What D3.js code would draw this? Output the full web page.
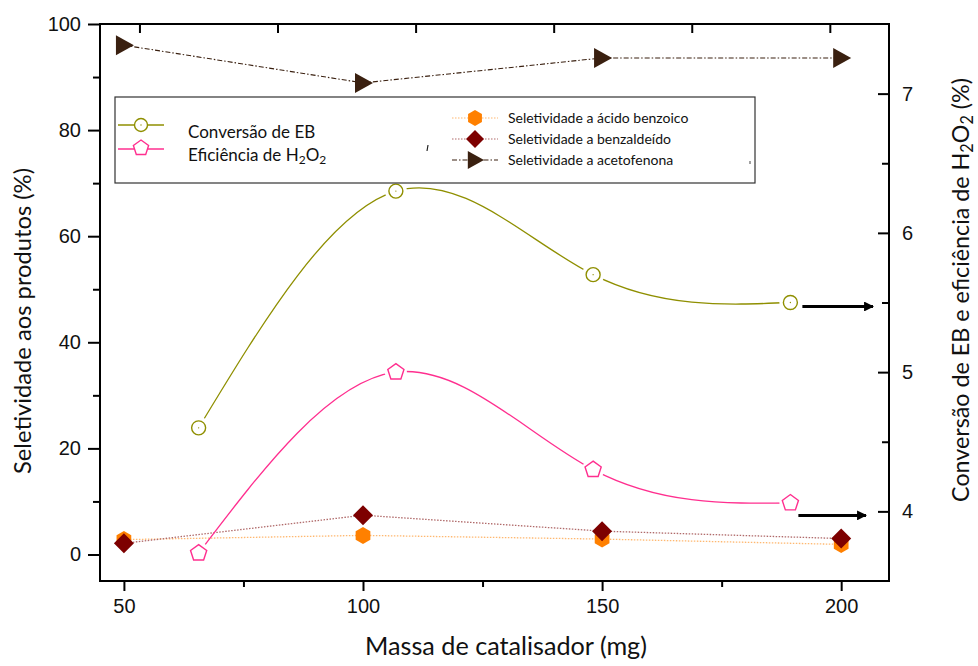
<!DOCTYPE html>
<html>
<head>
<meta charset="utf-8">
<script src="https://cdn.jsdelivr.net/npm/d3@7/dist/d3.min.js"></script>
<style>
  html, body { margin: 0; padding: 0; background: #fff; }
  svg { display: block; }
  .tick-label { font-family: "Liberation Sans", Arial, sans-serif; font-size: 20px; fill: #111; }
  .title { font-family: Lato, "Open Sans", sans-serif; font-size: 23px; fill: #111; }
  .leg-big { font-family: Lato, "Open Sans", sans-serif; font-size: 17px; fill: #111; }
  .leg-small { font-family: Lato, "Open Sans", sans-serif; font-size: 14px; fill: #111; }
</style>
</head>
<body>
<svg id="chart" width="978" height="666"></svg>
<script>
// Catalyst mass (mg)
const massas = [50, 100, 150, 200];

// Selectivity to products (%), left axis
const acidoBenzoico = [2.8, 3.6, 2.9, 1.9];
const benzaldeido   = [2.1, 7.4, 4.4, 3.0];
const acetofenona   = [96.0, 88.9, 93.6, 93.6];

// EB conversion and H2O2 efficiency (%), right axis
const conversaoEB    = [4.6, 6.3, 5.7, 5.5];
const eficienciaH2O2 = [3.7, 5.0, 4.3, 4.06];

// Right-axis values the two arrows point at
const arrowValues = [5.5, 4.0];

// Axis ticks
const xTicks = [50, 100, 150, 200];
const xMinor = [75, 125, 175];
const yLeftTicks = [0, 20, 40, 60, 80, 100];
const yLeftMinor = [10, 30, 50, 70, 90];
const yRightTicks = [4, 5, 6, 7];
const yRightMinor = [4.5, 5.5, 6.5];
const xTopTicks = [35, 70, 105, 140, 175, 210];

const svg = d3.select("#chart");
const plot = { left: 100, right: 889, top: 24, bottom: 581 };

// Layer 1 (selectivities) and layer 2 (conversion/efficiency) scales
const x  = d3.scaleLinear().domain([45, 210]).range([plot.left, plot.right]);
const x2 = d3.scaleLinear().domain([25, 225]).range([plot.left, plot.right]);
const yL = d3.scaleLinear().domain([-5, 100]).range([plot.bottom, plot.top]);
const yR = d3.scaleLinear().domain([3.5, 7.5]).range([plot.bottom, plot.top]);

const colors = {
  conv: "#8f8f00",
  efic: "#ff2f8f",
  acido: "#ff8000",
  acidoLine: "#ffb870",
  benz: "#7d0000",
  benzLine: "#b06a6a",
  aceto: "#3a2010"
};

// ---- Axes ----
function styleAxis(g) {
  g.selectAll(".domain").remove();
  g.selectAll(".tick line").attr("stroke", "#000").attr("stroke-width", 2);
}
function styleLabels(g) {
  g.selectAll("text").attr("class", "tick-label").attr("font-size", null).attr("font-family", null);
}

// bottom: outward ticks
svg.append("g").attr("transform", `translate(0,${plot.bottom})`)
  .call(d3.axisBottom(x).tickValues(xTicks).tickSize(10).tickPadding(8).tickFormat(d3.format("d")))
  .call(styleAxis).call(styleLabels);
svg.append("g").attr("transform", `translate(0,${plot.bottom})`)
  .call(d3.axisBottom(x).tickValues(xMinor).tickSize(6).tickFormat(""))
  .call(styleAxis);

// top: layer 2 x axis, inward ticks, no labels
svg.append("g").attr("transform", `translate(0,${plot.top})`)
  .call(d3.axisBottom(x2).tickValues(xTopTicks).tickSize(9).tickFormat(""))
  .call(styleAxis);

// left: outward ticks
svg.append("g").attr("transform", `translate(${plot.left},0)`)
  .call(d3.axisLeft(yL).tickValues(yLeftTicks).tickSize(12).tickPadding(7).tickFormat(d3.format("d")))
  .call(styleAxis).call(styleLabels);
svg.append("g").attr("transform", `translate(${plot.left},0)`)
  .call(d3.axisLeft(yL).tickValues(yLeftMinor).tickSize(7).tickFormat(""))
  .call(styleAxis);

// right: inward ticks, labels outside
svg.append("g").attr("transform", `translate(${plot.right},0)`)
  .call(d3.axisRight(yR).tickValues(yRightTicks).tickSizeInner(-11).tickSizeOuter(0).tickPadding(13).tickFormat(d3.format("d")))
  .call(styleAxis).call(styleLabels);
svg.append("g").attr("transform", `translate(${plot.right},0)`)
  .call(d3.axisRight(yR).tickValues(yRightMinor).tickSizeInner(-7).tickSizeOuter(0).tickFormat(""))
  .call(styleAxis);

// frame
svg.append("rect")
  .attr("x", plot.left).attr("y", plot.top)
  .attr("width", plot.right - plot.left).attr("height", plot.bottom - plot.top)
  .attr("fill", "none").attr("stroke", "#000").attr("stroke-width", 2);

// ---- Axis titles (font size adjusted so each title spans its intended length) ----
function fitText(sel, length) {
  const base = 23;
  const measured = sel.node().getComputedTextLength();
  if (measured > 0) sel.style("font-size", (base * length / measured).toFixed(2) + "px");
}

const bt = svg.append("text").attr("class", "title")
  .attr("x", 506).attr("y", 655)
  .attr("text-anchor", "middle").text("Massa de catalisador (mg)");
fitText(bt, 282);

const lt0 = svg.append("text").attr("class", "title")
  .attr("transform", `translate(31,321) rotate(-90)`)
  .attr("text-anchor", "middle").text("Seletividade aos produtos (%)");
fitText(lt0, 306);

const rt = svg.append("text").attr("class", "title")
  .attr("transform", `translate(969,290) rotate(-90)`)
  .attr("text-anchor", "middle");
rt.append("tspan").text("Conversão de EB e eficiência de H");
rt.append("tspan").attr("font-size", "0.7em").attr("dy", 4).text("2");
rt.append("tspan").attr("dy", -4).text("O");
rt.append("tspan").attr("font-size", "0.7em").attr("dy", 4).text("2");
rt.append("tspan").attr("dy", -4).text(" (%)");
fitText(rt, 424);

// ---- Marker shapes ----
function polygon(n, r, start) {
  const pts = d3.range(n).map(i => {
    const a = start + i * 2 * Math.PI / n;
    return [r * Math.cos(a), r * Math.sin(a)];
  });
  return "M" + pts.map(p => p.join(",")).join("L") + "Z";
}
const sym = {
  pentagon: r => polygon(5, r, -Math.PI / 2),
  hexagon: r => polygon(6, r, -Math.PI / 2),
  diamond: r => `M0,${-r}L${r},0L0,${r}L${-r},0Z`,
  triangleRight: r => `M${-r * 0.8},${-r}L${r},0L${-r * 0.8},${r}Z`
};

// ---- Layer 1: selectivities (left axis) ----
const line1 = d3.line().x((d, i) => x(massas[i])).y(d => yL(d));

svg.append("path").datum(acidoBenzoico).attr("d", line1)
  .attr("fill", "none").attr("stroke", colors.acidoLine).attr("stroke-width", 1.3)
  .attr("stroke-dasharray", "1.5,1.5");
svg.append("path").datum(benzaldeido).attr("d", line1)
  .attr("fill", "none").attr("stroke", colors.benzLine).attr("stroke-width", 1.3)
  .attr("stroke-dasharray", "1.5,1.5");
svg.append("path").datum(acetofenona).attr("d", line1)
  .attr("fill", "none").attr("stroke", colors.aceto).attr("stroke-width", 1.1)
  .attr("stroke-dasharray", "5,2,1.5,2");

svg.append("g").selectAll("path").data(acidoBenzoico).join("path")
  .attr("transform", (d, i) => `translate(${x(massas[i])},${yL(d)})`)
  .attr("d", sym.hexagon(8.5)).attr("fill", colors.acido);
svg.append("g").selectAll("path").data(benzaldeido).join("path")
  .attr("transform", (d, i) => `translate(${x(massas[i])},${yL(d)})`)
  .attr("d", sym.diamond(10)).attr("fill", colors.benz);
svg.append("g").selectAll("path").data(acetofenona).join("path")
  .attr("transform", (d, i) => `translate(${x(massas[i])},${yL(d)})`)
  .attr("d", sym.triangleRight(10)).attr("fill", colors.aceto);

// ---- Layer 2: conversion and efficiency (right axis), smooth curves ----
const defs = svg.append("defs");
const mask = defs.append("mask").attr("id", "gapMask");
mask.append("rect").attr("x", 0).attr("y", 0).attr("width", 978).attr("height", 666).attr("fill", "#fff");
[conversaoEB, eficienciaH2O2].forEach(series => {
  series.forEach((v, i) => {
    mask.append("circle").attr("cx", x2(massas[i])).attr("cy", yR(v)).attr("r", 11).attr("fill", "#000");
  });
});

const curve2 = d3.line().x((d, i) => x2(massas[i])).y(d => yR(d)).curve(d3.curveNatural);

svg.append("path").datum(conversaoEB).attr("d", curve2).attr("mask", "url(#gapMask)")
  .attr("fill", "none").attr("stroke", colors.conv).attr("stroke-width", 1.3);
svg.append("path").datum(eficienciaH2O2).attr("d", curve2).attr("mask", "url(#gapMask)")
  .attr("fill", "none").attr("stroke", colors.efic).attr("stroke-width", 1.3);

const convG = svg.append("g");
convG.selectAll("circle.m").data(conversaoEB).join("circle").attr("class", "m")
  .attr("cx", (d, i) => x2(massas[i])).attr("cy", d => yR(d)).attr("r", 7)
  .attr("fill", "#fff").attr("stroke", colors.conv).attr("stroke-width", 1.4);
convG.selectAll("circle.dot").data(conversaoEB).join("circle").attr("class", "dot")
  .attr("cx", (d, i) => x2(massas[i])).attr("cy", d => yR(d)).attr("r", 0.7)
  .attr("fill", colors.conv);
svg.append("g").selectAll("path").data(eficienciaH2O2).join("path")
  .attr("transform", (d, i) => `translate(${x2(massas[i])},${yR(d)})`)
  .attr("d", sym.pentagon(8.5)).attr("fill", "#fff")
  .attr("stroke", colors.efic).attr("stroke-width", 1.4);

// ---- Arrows from the last points toward the right axis ----
defs.append("marker").attr("id", "arrowHead")
  .attr("viewBox", "0 0 10 10").attr("refX", 9).attr("refY", 5)
  .attr("markerWidth", 5.5).attr("markerHeight", 3.3).attr("orient", "auto")
  .attr("markerUnits", "strokeWidth")
  .append("path").attr("d", "M0,0L10,5L0,10Z").attr("fill", "#000");

const lastMass = massas[massas.length - 1];
arrowValues.forEach((v, k) => {
  const yy = yR(v) + 4;
  svg.append("line")
    .attr("x1", x2(lastMass) + (k === 0 ? 12 : 8)).attr("x2", plot.right - (k === 0 ? 16 : 23))
    .attr("y1", yy).attr("y2", yy)
    .attr("stroke", "#000").attr("stroke-width", 3)
    .attr("marker-end", "url(#arrowHead)");
});

// ---- Legend ----
const leg = svg.append("g");
leg.append("rect").attr("x", 115).attr("y", 97).attr("width", 640).attr("height", 86)
  .attr("fill", "#fff").attr("stroke", "#333").attr("stroke-width", 1.2);

// left column
leg.append("line").attr("x1", 118).attr("x2", 164).attr("y1", 125).attr("y2", 125)
  .attr("stroke", colors.conv).attr("stroke-width", 1.3);
leg.append("circle").attr("cx", 141).attr("cy", 125).attr("r", 6.5)
  .attr("fill", "#fff").attr("stroke", colors.conv).attr("stroke-width", 1.4);
leg.append("circle").attr("cx", 141).attr("cy", 125).attr("r", 0.7).attr("fill", colors.conv);
leg.append("text").attr("class", "leg-big").attr("x", 188).attr("y", 138).text("Conversão de EB");

leg.append("line").attr("x1", 118).attr("x2", 164).attr("y1", 149).attr("y2", 149)
  .attr("stroke", colors.efic).attr("stroke-width", 1.3);
leg.append("path").attr("transform", "translate(141,148)").attr("d", sym.pentagon(8))
  .attr("fill", "#fff").attr("stroke", colors.efic).attr("stroke-width", 1.4);
const lt = leg.append("text").attr("class", "leg-big").attr("x", 188).attr("y", 161);
lt.append("tspan").text("Eficiência de H");
lt.append("tspan").attr("font-size", "12px").attr("dy", 3).text("2");
lt.append("tspan").attr("dy", -3).text("O");
lt.append("tspan").attr("font-size", "12px").attr("dy", 3).text("2");

// right column
const rightEntries = [
  { y: 118, label: "Seletividade a ácido benzoico", line: colors.acidoLine, dash: "1.5,1.5", shape: sym.hexagon(8), fill: colors.acido },
  { y: 139, label: "Seletividade a benzaldeído", line: colors.benzLine, dash: "1.5,1.5", shape: sym.diamond(9), fill: colors.benz },
  { y: 160, label: "Seletividade a acetofenona", line: colors.aceto, dash: "5,2,1.5,2", shape: sym.triangleRight(9), fill: colors.aceto }
];
rightEntries.forEach(e => {
  leg.append("line").attr("x1", 452).attr("x2", 498).attr("y1", e.y).attr("y2", e.y)
    .attr("stroke", e.line).attr("stroke-width", 1.2).attr("stroke-dasharray", e.dash);
  leg.append("path").attr("transform", `translate(475,${e.y})`).attr("d", e.shape).attr("fill", e.fill);
  leg.append("text").attr("class", "leg-small").attr("x", 508).attr("y", e.y + 5).text(e.label);
});

// small stray marks inside the legend box
leg.append("line").attr("x1", 428).attr("x2", 427).attr("y1", 145).attr("y2", 151)
  .attr("stroke", "#222").attr("stroke-width", 1.2);
leg.append("line").attr("x1", 750).attr("x2", 750).attr("y1", 161).attr("y2", 164)
  .attr("stroke", "#444").attr("stroke-width", 1);
</script>
</body>
</html>
